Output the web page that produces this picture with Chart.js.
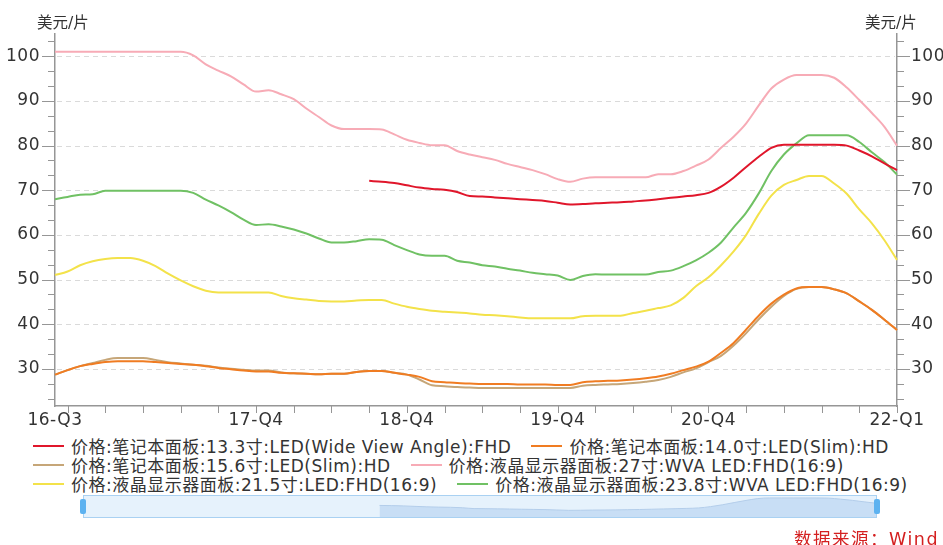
<!DOCTYPE html>
<html>
<head>
<meta charset="utf-8">
<script src="https://cdn.jsdelivr.net/npm/chart.js@4.4.1/dist/chart.umd.min.js"></script>
<style>
  body { margin: 0; background: #fff; }
  #wrap { position: relative; width: 943px; height: 545px; overflow: hidden; font-family: "DejaVu Sans", "Noto Sans CJK SC", sans-serif; color: #333; }
  #main { position: absolute; left: 0; top: 0; }
  .unit { position: absolute; top: 10px; font-size: 15.5px; }
  #legend { position: absolute; left: 33px; top: 436px; font-size: 17px; letter-spacing: 0.5px; }
  .row { height: 19px; display: flex; align-items: center; white-space: nowrap; }
  .item { display: flex; align-items: center; margin-right: 20px; }
  .sw { width: 31px; height: 2px; margin-right: 7px; }
  #slider { position: absolute; left: 83px; top: 495px; width: 794px; height: 23px; background: #e6f2fc; border: 1px solid #a9d1f2; box-sizing: border-box; }
  #shadowBox { position: absolute; left: 84px; top: 496px; width: 792px; height: 21px; }
  .handle { position: absolute; top: 499px; width: 6px; height: 15px; background: #5db2f0; border-radius: 2px; }
  #source { position: absolute; right: 4px; top: 525px; color: #d42020; font-size: 17.5px; letter-spacing: 1.5px; }
</style>
</head>
<body>
<div id="wrap">
  <canvas id="main" width="943" height="432"></canvas>
  <div class="unit" style="left:37px">美元/片</div>
  <div class="unit" style="left:865px">美元/片</div>
  <div id="legend"></div>
  <div id="slider"></div>
  <div id="shadowBox"><canvas id="shadow" width="792" height="21"></canvas></div>
  <div class="handle" style="left:80px"></div>
  <div class="handle" style="left:874px"></div>
  <div id="source">数据来源：Wind</div>
</div>
<script>
// monthly observations, Jun 2016 .. Jan 2022
const months = [
  '2016-06', '2016-07', '2016-08', '2016-09', '2016-10', '2016-11', '2016-12',
  '2017-01', '2017-02', '2017-03', '2017-04', '2017-05', '2017-06', '2017-07', '2017-08', '2017-09', '2017-10', '2017-11', '2017-12',
  '2018-01', '2018-02', '2018-03', '2018-04', '2018-05', '2018-06', '2018-07', '2018-08', '2018-09', '2018-10', '2018-11', '2018-12',
  '2019-01', '2019-02', '2019-03', '2019-04', '2019-05', '2019-06', '2019-07', '2019-08', '2019-09', '2019-10', '2019-11', '2019-12',
  '2020-01', '2020-02', '2020-03', '2020-04', '2020-05', '2020-06', '2020-07', '2020-08', '2020-09', '2020-10', '2020-11', '2020-12',
  '2021-01', '2021-02', '2021-03', '2021-04', '2021-05', '2021-06', '2021-07', '2021-08', '2021-09', '2021-10', '2021-11', '2021-12',
  '2022-01'
];

// axis labels and where they sit
const xLabelIndex = [0, 16, 28, 40, 52, 67];
const xLabelText = ['16-Q3', '17-Q4', '18-Q4', '19-Q4', '20-Q4', '22-Q1'];

const names = [
  '价格:笔记本面板:13.3寸:LED(Wide View Angle):FHD',
  '价格:笔记本面板:14.0寸:LED(Slim):HD',
  '价格:笔记本面板:15.6寸:LED(Slim):HD',
  '价格:液晶显示器面板:27寸:WVA LED:FHD(16:9)',
  '价格:液晶显示器面板:21.5寸:LED:FHD(16:9)',
  '价格:液晶显示器面板:23.8寸:WVA LED:FHD(16:9)'
];
const colors = ['#e0162b', '#f07c22', '#c6a678', '#f7abb6', '#f3e24a', '#70c164'];

const nb133 = [
  null, null, null, null, null, null, null, null, null, null, null, null, null,
  null, null, null, null, null, null, null, null, null, null, null, null,
  72.1, 71.9, 71.6, 71.1, 70.6, 70.3, 70.1, 69.6, 68.7, 68.6, 68.4, 68.2, 68.0,
  67.8, 67.6, 67.2, 66.8, 66.9, 67.1, 67.2, 67.3, 67.5, 67.7, 68.0, 68.3, 68.6,
  68.9, 69.4, 70.8, 72.8, 75.2, 77.5, 79.5, 80.2, 80.2, 80.2, 80.2, 80.2, 80.0,
  78.9, 77.6, 76.0, 74.5
];
const nb140 = [
  28.7, 29.7, 30.6, 31.1, 31.5, 31.7, 31.7, 31.7, 31.5, 31.3, 31.1, 30.9, 30.6,
  30.2, 29.9, 29.6, 29.4, 29.4, 29.1, 29.0, 28.9, 28.8, 28.9, 28.9, 29.3, 29.5,
  29.5, 29.1, 28.7, 28.2, 27.2, 27.0, 26.8, 26.7, 26.6, 26.6, 26.6, 26.5, 26.5,
  26.5, 26.4, 26.4, 27.0, 27.2, 27.3, 27.4, 27.6, 27.9, 28.3, 28.9, 29.7, 30.5,
  31.6, 33.6, 35.8, 38.8, 41.9, 44.6, 46.6, 48.0, 48.3, 48.3, 47.8, 46.9, 45.1,
  43.2, 41.0, 38.7
];
const nb156 = [
  28.7, 29.7, 30.6, 31.3, 32.0, 32.4, 32.4, 32.4, 32.0, 31.5, 31.2, 30.9, 30.7,
  30.3, 30.0, 29.8, 29.6, 29.6, 29.2, 29.0, 28.9, 28.8, 28.9, 28.9, 29.3, 29.5,
  29.5, 29.1, 28.7, 27.6, 26.3, 26.1, 25.9, 25.8, 25.7, 25.7, 25.7, 25.7, 25.7,
  25.7, 25.7, 25.7, 26.2, 26.4, 26.5, 26.6, 26.8, 27.1, 27.5, 28.2, 29.2, 30.1,
  31.5, 32.9, 35.2, 38.0, 41.1, 43.9, 46.3, 47.9, 48.3, 48.3, 47.8, 46.9, 45.1,
  43.2, 41.0, 38.7
];
const mon27 = [
  101, 101, 101, 101, 101, 101, 101, 101, 101, 101, 101, 100.2, 98.2,
  96.8, 95.5, 93.7, 92.1, 92.4, 91.5, 90.4, 88.3, 86.4, 84.5, 83.7, 83.7, 83.7,
  83.6, 82.5, 81.3, 80.6, 80.1, 80.1, 78.8, 78.0, 77.4, 76.8, 75.9, 75.2, 74.5,
  73.6, 72.5, 71.9, 72.6, 72.9, 72.9, 72.9, 72.9, 72.9, 73.6, 73.6, 74.3, 75.5,
  76.9, 79.5, 82.0, 85.0, 89.0, 92.8, 94.8, 95.8, 95.8, 95.8, 95.2, 93.0, 90.2,
  87.3, 84.2, 80.0
];
const mon215 = [
  51.0, 51.8, 53.2, 54.1, 54.6, 54.8, 54.8, 54.2, 53.0, 51.3, 49.8, 48.5, 47.5,
  47.1, 47.1, 47.1, 47.1, 47.1, 46.3, 45.8, 45.5, 45.2, 45.1, 45.1, 45.3, 45.4,
  45.4, 44.6, 43.9, 43.4, 43.0, 42.8, 42.6, 42.4, 42.1, 42.0, 41.8, 41.5, 41.3,
  41.3, 41.3, 41.3, 41.8, 41.9, 41.9, 41.9, 42.5, 43.0, 43.6, 44.2, 45.9, 48.5,
  50.5, 53.2, 56.3, 60.0, 64.7, 68.8, 71.2, 72.3, 73.2, 73.2, 71.5, 69.2, 65.7,
  62.6, 58.8, 54.4
];
const mon238 = [
  68.0, 68.5, 69.0, 69.1, 69.9, 69.9, 69.9, 69.9, 69.9, 69.9, 69.9, 69.4, 67.9,
  66.6, 65.1, 63.4, 62.2, 62.4, 61.9, 61.2, 60.3, 59.2, 58.3, 58.3, 58.6, 59.0,
  58.9, 57.7, 56.6, 55.6, 55.3, 55.3, 54.2, 53.8, 53.2, 52.9, 52.4, 52.0, 51.5,
  51.2, 50.9, 49.9, 50.8, 51.2, 51.1, 51.1, 51.1, 51.1, 51.7, 52.0, 53.0, 54.3,
  56.0, 58.3, 61.7, 65.0, 69.3, 74.3, 78.0, 80.5, 82.3, 82.3, 82.3, 82.3, 80.8,
  78.5, 76.3, 73.5
];
const series = [nb133, nb140, nb156, mon27, mon215, mon238];

const Y_MIN = 21.67, Y_MAX = 105;
const axisColor = '#969696';
const tickFont = { family: '"DejaVu Sans", sans-serif', size: 17 };

// minor ticks every 10/3, labels only on the tens
const yTicks = [];
for (let k = 1; k * 10 / 3 + 20 < Y_MAX; k++) yTicks.push(20 + k * 10 / 3);
const isTen = v => Math.abs(v - Math.round(v / 10) * 10) < 0.01;
const xTickIndex = [];
for (let i = 1; i < months.length; i += 3) xTickIndex.push(i);

// dashed grid behind the lines, tick marks on both value axes and the time axis
const axisDecor = {
  id: 'axisDecor',
  beforeDatasetsDraw(chart) {
    const { ctx, chartArea: a, scales } = chart;
    ctx.save();
    ctx.strokeStyle = '#dadada';
    ctx.lineWidth = 1;
    ctx.setLineDash([5, 4]);
    ctx.beginPath();
    yTicks.filter(isTen).forEach(v => {
      const y = Math.round(scales.y.getPixelForValue(v)) + 0.5;
      ctx.moveTo(a.left + 2, y); ctx.lineTo(a.right - 2, y);
    });
    ctx.stroke();
    ctx.restore();
  },
  beforeDraw(chart) {
    chart.ctx.letterSpacing = '0.5px';
  },
  afterDraw(chart) {
    const { ctx, chartArea: a, scales } = chart;
    ctx.save();
    ctx.strokeStyle = axisColor;
    ctx.lineWidth = 1;
    ctx.beginPath();
    yTicks.forEach(v => {
      const y = Math.round(scales.y.getPixelForValue(v)) + 0.5;
      const len = isTen(v) ? 13 : 7;
      ctx.moveTo(a.left - len, y); ctx.lineTo(a.left, y);
      ctx.moveTo(a.right, y); ctx.lineTo(a.right + len, y);
    });
    xTickIndex.forEach(i => {
      const x = Math.round(scales.x.getPixelForValue(i)) + 0.5;
      ctx.moveTo(x, a.bottom); ctx.lineTo(x, a.bottom + 7);
    });
    ctx.stroke();
    ctx.restore();
  }
};

const yAxis = (pos) => ({
  type: 'linear',
  position: pos,
  min: Y_MIN,
  max: Y_MAX,
  afterBuildTicks: s => { s.ticks = yTicks.map(v => ({ value: v })); },
  afterFit: s => { s.width = pos === 'left' ? 55 : 46; },
  border: { display: true, color: axisColor, width: 1.5 },
  grid: { display: false, drawTicks: false },
  ticks: {
    color: '#333',
    font: tickFont,
    autoSkip: false,
    padding: pos === 'left' ? 15 : 14,
    callback: v => isTen(v) ? Math.round(v) : ''
  }
});

new Chart(document.getElementById('main'), {
  type: 'line',
  data: {
    labels: months,
    datasets: series.map((d, k) => ({
      label: names[k],
      data: d,
      borderColor: colors[k],
      backgroundColor: colors[k],
      borderWidth: 2,
      pointRadius: 0,
      cubicInterpolationMode: 'monotone',
      spanGaps: false
    }))
  },
  options: {
    responsive: false,
    animation: false,
    devicePixelRatio: 1,
    layout: { padding: { top: 34, left: 0, right: 0, bottom: 0 } },
    plugins: { legend: { display: false }, tooltip: { enabled: false } },
    scales: {
      x: {
        type: 'category',
        offset: false,
        afterBuildTicks: s => { s.ticks = xLabelIndex.map(v => ({ value: v })); },
        afterFit: s => { s.height = 26; },
        border: { display: true, color: axisColor, width: 1.5 },
        grid: { display: false, drawTicks: false },
        ticks: {
          color: '#333',
          font: tickFont,
          padding: 4,
          autoSkip: false,
          maxRotation: 0,
          callback: (v, i) => xLabelText[i]
        }
      },
      y: yAxis('left'),
      y2: yAxis('right')
    }
  },
  plugins: [axisDecor]
});

// data-zoom strip preview (first series)
new Chart(document.getElementById('shadow'), {
  type: 'line',
  data: {
    labels: months,
    datasets: [{
      data: nb133,
      borderColor: '#b3cdea',
      borderWidth: 1,
      backgroundColor: 'rgba(175, 205, 238, 0.55)',
      fill: 'start',
      pointRadius: 0,
      cubicInterpolationMode: 'monotone'
    }]
  },
  options: {
    responsive: false,
    animation: false,
    devicePixelRatio: 1,
    layout: { padding: 0 },
    plugins: { legend: { display: false }, tooltip: { enabled: false } },
    scales: {
      x: { display: false, offset: false },
      y: { display: false, min: 59.6, max: 82.3 }
    }
  }
});

// legend, two entries per row
const legend = document.getElementById('legend');
[[0, 1], [2, 3], [4, 5]].forEach(pair => {
  const row = document.createElement('div');
  row.className = 'row';
  pair.forEach(k => {
    const item = document.createElement('div');
    item.className = 'item';
    item.innerHTML = '<span class="sw" style="background:' + colors[k] + '"></span><span>' + names[k] + '</span>';
    row.appendChild(item);
  });
  legend.appendChild(row);
});
</script>
</body>
</html>
